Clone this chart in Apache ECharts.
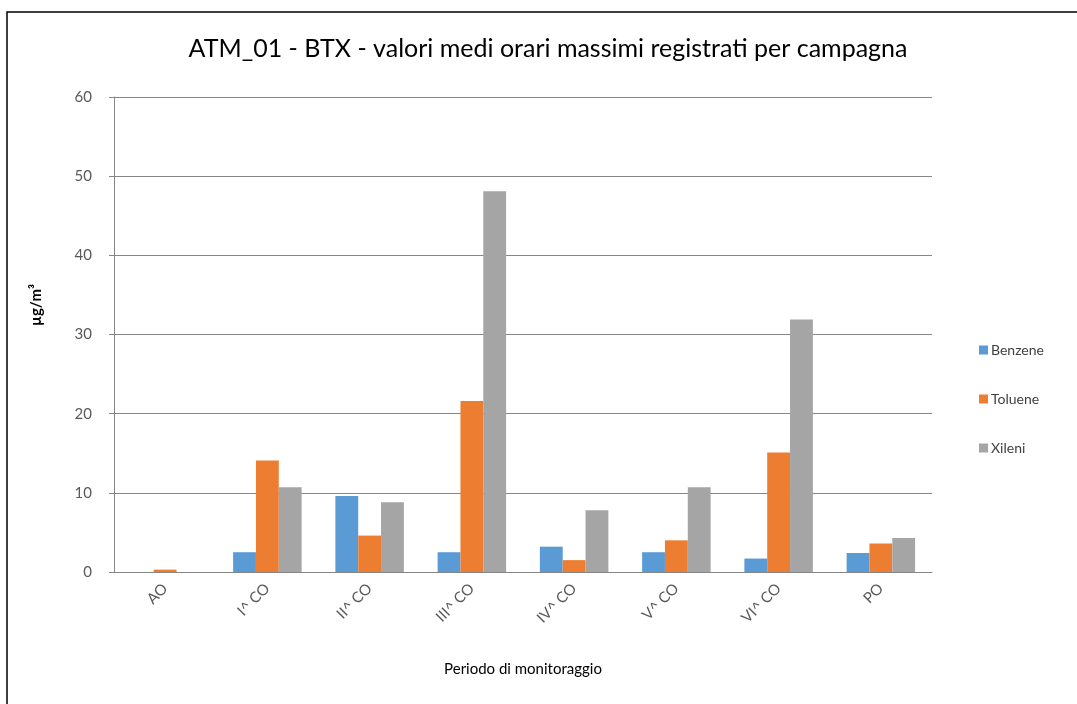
<!DOCTYPE html>
<html>
<head>
<meta charset="utf-8">
<script src="https://cdn.jsdelivr.net/npm/echarts@6/dist/echarts.min.js"></script>
<style>
  html, body { margin: 0; padding: 0; background: #fff; }
  #chart { width: 1077px; height: 704px; }
</style>
</head>
<body>
<div id="chart"></div>
<script>
// categorie (periodi di monitoraggio)
const categories = ['AO', 'I^ CO', 'II^ CO', 'III^ CO', 'IV^ CO', 'V^ CO', 'VI^ CO', 'PO']
// valori, µg/m3
const benzene = [0, 2.5, 9.6, 2.5, 3.2, 2.5, 1.7, 2.4]
const toluene = [0.3, 14.1, 4.6, 21.6, 1.5, 4.0, 15.1, 3.6]
const xileni = [0, 10.7, 8.8, 48.1, 7.8, 10.7, 31.9, 4.3]
const yTicks = [0, 10, 20, 30, 40, 50, 60]

const font = 'Lato, "Open Sans", sans-serif'
const chart = echarts.init(document.getElementById('chart'))

const bar = (name, data, color) => ({
  name: name,
  type: 'bar',
  data: data,
  barGap: '0%',
  barCategoryGap: '33%',
  itemStyle: { color: color }
})

chart.setOption({
  animation: false,
  backgroundColor: '#fff',
  textStyle: { fontFamily: font },
  title: {
    text: 'ATM_01 - BTX - valori medi orari massimi registrati per campagna',
    left: 543,
    top: 31,
    textAlign: 'center',
    textStyle: { fontFamily: font, fontSize: 25, fontWeight: 'normal', color: '#000' }
  },
  legend: {
    orient: 'vertical',
    left: 974,
    top: 338,
    itemWidth: 9,
    itemHeight: 9,
    itemGap: 35,
    icon: 'rect',
    textStyle: { fontFamily: font, fontSize: 14, color: '#404040', padding: [0, 0, 0, -2] },
    data: ['Benzene', 'Toluene', 'Xileni']
  },
  grid: { left: 114, right: 145, top: 97, bottom: 132, containLabel: false },
  xAxis: {
    type: 'category',
    data: categories,
    name: 'Periodo di monitoraggio',
    nameLocation: 'middle',
    nameGap: 90,
    nameTextStyle: { fontFamily: font, fontSize: 15, color: '#000' },
    axisLine: { lineStyle: { color: '#868686', width: 1 } },
    axisTick: { show: false },
    axisLabel: { rotate: 45, margin: 14, fontSize: 15, color: '#595959', fontFamily: font }
  },
  yAxis: {
    type: 'value',
    min: yTicks[0],
    max: yTicks[yTicks.length - 1],
    interval: 10,
    axisLine: { show: true, lineStyle: { color: '#868686', width: 1 } },
    axisTick: { show: true, length: 5, lineStyle: { color: '#868686' } },
    axisLabel: { margin: 22, fontSize: 15, color: '#595959', fontFamily: font },
    splitLine: { lineStyle: { color: '#868686', width: 1 } }
  },
  graphic: [
    {
      type: 'rect',
      shape: { x: 7, y: 12, width: 1200, height: 900 },
      style: { fill: 'none', stroke: '#000', lineWidth: 1.5 },
      silent: true
    },
    {
      type: 'text',
      x: 36,
      y: 305,
      rotation: Math.PI / 2,
      style: {
        text: 'µg/m³',
        fontFamily: font,
        fontSize: 15,
        fontWeight: 'bold',
        fill: '#000',
        align: 'center',
        verticalAlign: 'middle'
      }
    }
  ],
  series: [
    bar('Benzene', benzene, '#5B9BD5'),
    bar('Toluene', toluene, '#ED7D31'),
    bar('Xileni', xileni, '#A5A5A5')
  ]
})
</script>
</body>
</html>
